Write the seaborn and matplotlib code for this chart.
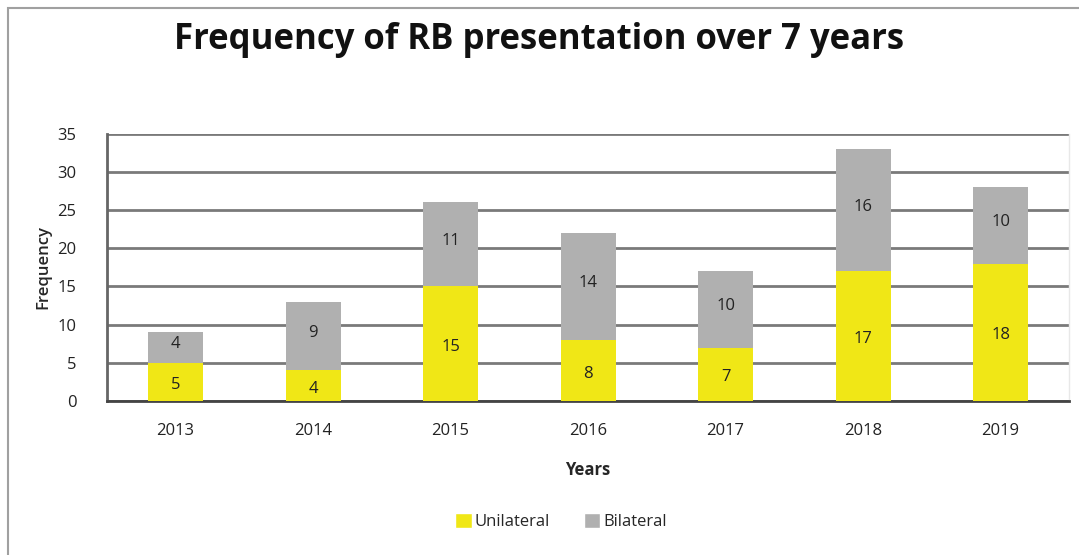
import numpy as np
import pandas as pd
import matplotlib
matplotlib.use("Agg")
import matplotlib.pyplot as plt
import seaborn as sns
from matplotlib.patches import Patch, Rectangle

years = ["2013", "2014", "2015", "2016", "2017", "2018", "2019"]
unilateral = [5, 4, 15, 8, 7, 17, 18]
bilateral = [4, 9, 11, 14, 10, 16, 10]

yellow = "#F0E716"
grey = "#B0B0B0"

sns.set_theme(style="white")
plt.rcParams["font.family"] = ["Open Sans", "DejaVu Sans"]

df = pd.DataFrame({"year": years, "Unilateral": unilateral, "Bilateral": bilateral})
df["total"] = df["Unilateral"] + df["Bilateral"]

fig = plt.figure(figsize=(10.79, 5.55), dpi=100)
ax = fig.add_axes([0.099, 0.2775, 0.892, 0.4815])

# stacked look: totals in grey, unilateral drawn over in yellow
sns.barplot(data=df, x="year", y="total", color=grey, width=0.4, saturation=1, linewidth=0, ax=ax, zorder=3)
sns.barplot(data=df, x="year", y="Unilateral", color=yellow, width=0.4, saturation=1, linewidth=0, ax=ax, zorder=4)

n = len(years)
for i in range(n):
    u = unilateral[i]
    b = bilateral[i]
    ax.text(i, u / 2 - 0.4, str(u), ha="center", va="center", fontsize=12, color="#222222", zorder=5)
    ax.text(i, u + b / 2 + 0.4, str(b), ha="center", va="center", fontsize=12, color="#222222", zorder=5)

ax.set_ylim(0, 35)
ax.set_xlim(-0.5, n - 0.5)
ax.set_yticks(range(0, 36, 5))
ax.yaxis.grid(True, color="#7a7a7a", linewidth=2, zorder=0)
ax.set_axisbelow(True)
ax.tick_params(axis="both", length=0, labelsize=12, colors="#222222")
ax.tick_params(axis="x", pad=16)
ax.tick_params(axis="y", pad=22)

ax.spines["top"].set_visible(False)
ax.spines["left"].set_color("#666666")
ax.spines["left"].set_linewidth(2)
ax.spines["bottom"].set_color("#444444")
ax.spines["bottom"].set_linewidth(2)
ax.spines["right"].set_color("#e8e8e8")
ax.spines["right"].set_linewidth(1)

ax.set_xlabel("Years", fontsize=12, fontweight="bold", labelpad=16)
ax.set_ylabel("Frequency", fontsize=12, fontweight="semibold", labelpad=4)

fig.text(0.5, 0.928, "Frequency of RB presentation over 7 years", ha="center", va="center",
         fontsize=25, fontweight="bold", color="#111111")

handles = [Patch(facecolor=yellow, label="Unilateral"), Patch(facecolor=grey, label="Bilateral")]
fig.legend(handles=handles, loc="center", bbox_to_anchor=(0.52, 0.06), ncol=2, frameon=False,
           fontsize=12, handlelength=1.0, handleheight=1.0, handletextpad=0.2, columnspacing=2.0)

# outer chart border (top and left visible)
fig.add_artist(Rectangle((8 / 1079, -0.1), 1.2, 1.1 - 8 / 555, transform=fig.transFigure,
                         fill=False, edgecolor="#a0a0a0", linewidth=1.5))

fig.savefig("out.png", dpi=100)
